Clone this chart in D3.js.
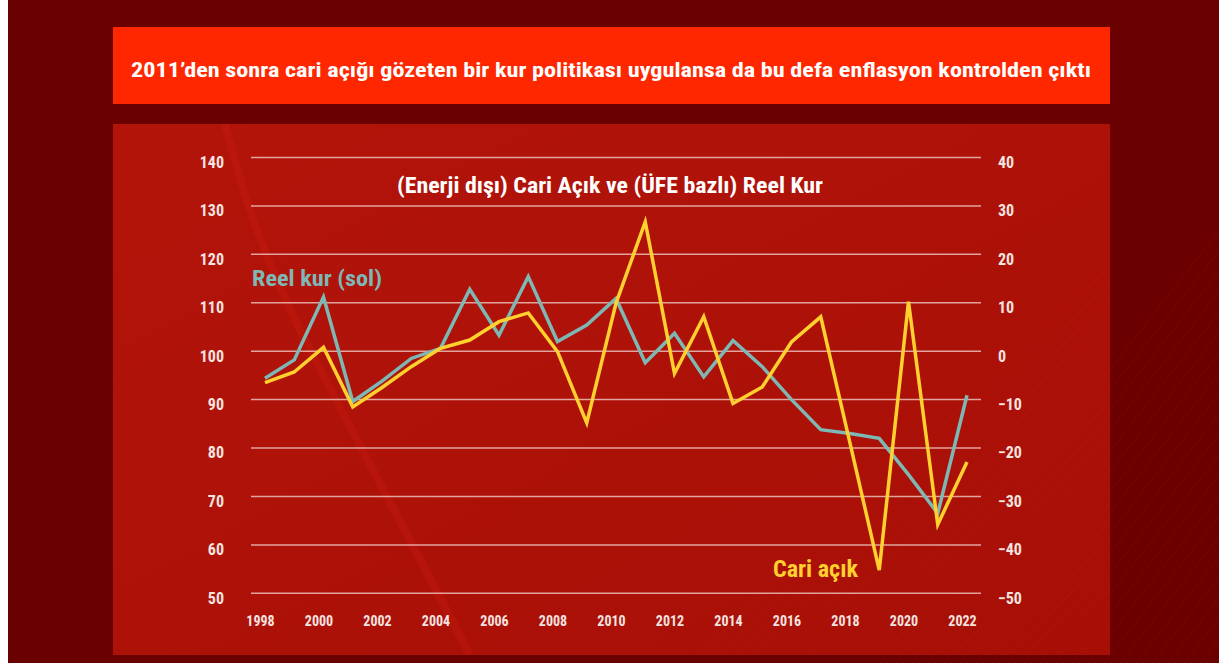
<!DOCTYPE html>
<html>
<head>
<meta charset="utf-8">
<script src="https://cdn.jsdelivr.net/npm/d3@7/dist/d3.min.js"></script>
<style>
  html, body { margin: 0; padding: 0; background: #ffffff; }
  svg { display: block; }
  text { font-family: "Roboto Condensed", "Liberation Sans Narrow", "DejaVu Sans Condensed", "Roboto", sans-serif; font-stretch: condensed; }
</style>
</head>
<body>
<svg id="chart" width="1219" height="666"></svg>
<script>
// ---- data ----
const years = [1998,1999,2000,2001,2002,2003,2004,2005,2006,2007,2008,2009,2010,2011,2012,2013,2014,2015,2016,2017,2018,2019,2020,2021,2022];
const reelKur = [94.4,98.2,111.2,89.6,93.8,98.5,100.6,112.8,103.3,115.4,102.0,105.4,110.9,97.6,103.7,94.7,102.2,96.8,90.0,83.8,83.0,82.0,74.5,66.5,90.9];
const cariAcik = [-6.5,-4.3,0.8,-11.5,-7.5,-3.2,0.6,2.3,6.1,7.9,-0.1,-14.8,9.9,26.7,-4.6,7.1,-10.8,-7.4,1.9,7.1,-19.0,-45.2,10.2,-35.8,-22.9];
const leftTicks = [50,60,70,80,90,100,110,120,130,140];
const rightTicks = [-50,-40,-30,-20,-10,0,10,20,30,40];
const xTicks = [1998,2000,2002,2004,2006,2008,2010,2012,2014,2016,2018,2020,2022];
const titleText = "2011’den sonra cari açığı gözeten bir kur politikası uygulansa da bu defa enflasyon kontrolden çıktı";
const subtitleText = "(Enerji dışı) Cari Açık ve (ÜFE bazlı) Reel Kur";
const reelLabel = "Reel kur (sol)";
const cariLabel = "Cari açık";

const svg = d3.select("#chart");
const defs = svg.append("defs");

// background
svg.append("rect").attr("x", 8).attr("y", 0).attr("width", 1211).attr("height", 663).attr("fill", "#6a0000");

// faint diagonal stripes on the background (decorative)
const clipBg = defs.append("clipPath").attr("id", "bgclip");
clipBg.append("rect").attr("x", 8).attr("y", 0).attr("width", 1211).attr("height", 663);
const stripes = svg.append("g").attr("clip-path", "url(#bgclip)");
for (let i = 0; i < 26; i++) {
  const x0 = 880 + i * 16;
  stripes.append("line")
    .attr("x1", x0).attr("y1", 663).attr("x2", x0 + 520).attr("y2", 0)
    .attr("stroke", "#ff3b2a").attr("stroke-opacity", 0.10).attr("stroke-width", 1);
}

// gradient for the panel
const grad = defs.append("linearGradient").attr("id", "panelGrad")
  .attr("x1", "0").attr("y1", "0").attr("x2", "1").attr("y2", "1");
grad.append("stop").attr("offset", "0%").attr("stop-color", "#b3140a");
grad.append("stop").attr("offset", "100%").attr("stop-color", "#a70f06");

// title banner
svg.append("rect").attr("x", 113).attr("y", 27).attr("width", 997).attr("height", 77).attr("fill", "#ff2700");
svg.append("text").attr("x", 611).attr("y", 77).attr("text-anchor", "middle")
  .attr("fill", "#ffffff").attr("font-size", 21).attr("font-weight", 700)
  .attr("textLength", 960).attr("lengthAdjust", "spacingAndGlyphs")
  .text(titleText);

// panel
svg.append("rect").attr("x", 113).attr("y", 124).attr("width", 997).attr("height", 531).attr("fill", "url(#panelGrad)");
const clipPanel = defs.append("clipPath").attr("id", "panelclip");
clipPanel.append("rect").attr("x", 113).attr("y", 124).attr("width", 997).attr("height", 531);
const pStripes = svg.append("g").attr("clip-path", "url(#panelclip)");
for (let i = 0; i < 22; i++) {
  const x0 = 700 + i * 18;
  pStripes.append("line")
    .attr("x1", x0).attr("y1", 655).attr("x2", x0 + 560).attr("y2", 124)
    .attr("stroke", "#ff5a40").attr("stroke-opacity", 0.07).attr("stroke-width", 1);
}
pStripes.append("path")
  .attr("d", "M225,124 C245,200 265,260 300,330 S400,520 470,655")
  .attr("fill", "none").attr("stroke", "#ff3020").attr("stroke-opacity", 0.12).attr("stroke-width", 8);

// scales
const x = d3.scaleLinear().domain([1998, 2022]).range([265, 967]);
const yL = d3.scaleLinear().domain([50, 140]).range([593.3, 157.5]);
const yR = d3.scaleLinear().domain([-50, 40]).range([593.3, 157.5]);

// gridlines
svg.append("g").selectAll("line").data(leftTicks).join("line")
  .attr("x1", 251).attr("x2", 981)
  .attr("y1", d => yL(d)).attr("y2", d => yL(d))
  .attr("stroke", "#f3d6d0").attr("stroke-opacity", 0.75).attr("stroke-width", 1.5);

const tickColor = "#f5e4e0";

// left axis
const gL = svg.append("g").attr("transform", "translate(224,0)")
  .call(d3.axisLeft(yL).tickValues(leftTicks).tickSize(0).tickPadding(0));
gL.select(".domain").remove();
gL.selectAll("text").attr("fill", tickColor).attr("font-size", 16).attr("font-weight", 700).attr("dy", "0.62em");

// right axis
const gR = svg.append("g").attr("transform", "translate(998,0)")
  .call(d3.axisRight(yR).tickValues(rightTicks).tickSize(0).tickPadding(0));
gR.select(".domain").remove();
gR.selectAll("text").attr("fill", tickColor).attr("font-size", 16).attr("font-weight", 700).attr("dy", "0.62em");

// bottom axis
const gB = svg.append("g").attr("transform", "translate(0,613)")
  .call(d3.axisBottom(x).tickValues(xTicks).tickFormat(d3.format("d")).tickSize(0).tickPadding(3));
gB.select(".domain").remove();
gB.selectAll("text").attr("fill", tickColor).attr("font-size", 14).attr("font-weight", 700).attr("dx", -5);

// subtitle
svg.append("text").attr("x", 610).attr("y", 193).attr("text-anchor", "middle")
  .attr("fill", "#ffffff").attr("font-size", 22).attr("font-weight", 700)
  .attr("textLength", 426).attr("lengthAdjust", "spacingAndGlyphs")
  .text(subtitleText);

// lines
const lineL = d3.line().x((d, i) => x(years[i])).y(d => yL(d));
const lineR = d3.line().x((d, i) => x(years[i])).y(d => yR(d));

svg.append("path").datum(reelKur).attr("d", lineL)
  .attr("fill", "none").attr("stroke", "#7db8b5").attr("stroke-width", 3.5).attr("stroke-linejoin", "miter");
svg.append("path").datum(cariAcik).attr("d", lineR)
  .attr("fill", "none").attr("stroke", "#ffd02e").attr("stroke-width", 3.5).attr("stroke-linejoin", "miter");

// series labels
svg.append("text").attr("x", 252).attr("y", 286)
  .attr("fill", "#7db8b5").attr("font-size", 22).attr("font-weight", 700)
  .attr("textLength", 130).attr("lengthAdjust", "spacingAndGlyphs")
  .text(reelLabel);
svg.append("text").attr("x", 773).attr("y", 577)
  .attr("fill", "#ffd02e").attr("font-size", 24).attr("font-weight", 700)
  .attr("textLength", 85).attr("lengthAdjust", "spacingAndGlyphs")
  .text(cariLabel);
</script>
</body>
</html>
